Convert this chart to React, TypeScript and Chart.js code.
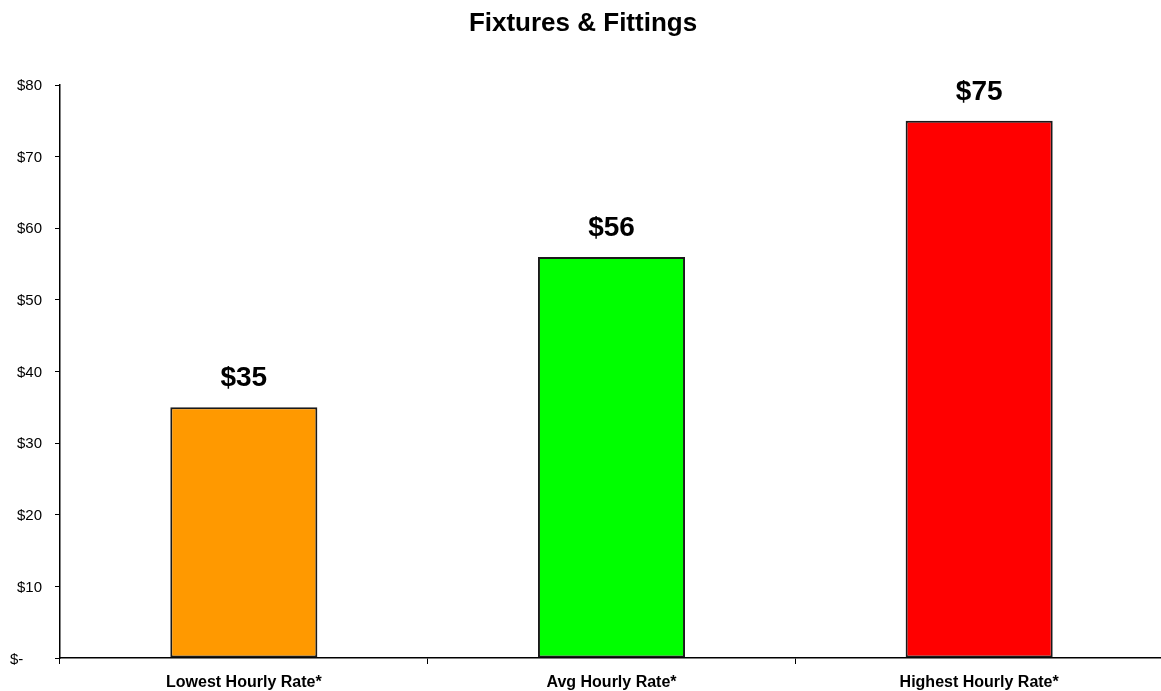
import React, { useEffect, useRef } from "react";
import { Chart, registerables } from "chart.js";

Chart.register(...registerables);

const title = "Fixtures & Fittings";
const categories = ["Lowest Hourly Rate*", "Avg Hourly Rate*", "Highest Hourly Rate*"];
const values = [35, 56, 75];
const barColors = ["#FF9900", "#00FF00", "#FF0000"];
const yMin = 0;
const yMax = 80;
const yStep = 10;

const FONT = "'Liberation Sans', Arial, Helvetica, sans-serif";

function drawText(ctx: any, text: string, x: number, y: number, align: string) {
  ctx.textAlign = align;
  ctx.fillText(text, x, y);
}

const textPlugin = {
  id: "customText",
  afterDraw(chart: any) {
    const ctx = chart.ctx;
    ctx.save();
    ctx.fillStyle = "#000";
    ctx.textBaseline = "middle";

    // title
    ctx.font = `bold 26px ${FONT}`;
    drawText(ctx, title, 583, 24, "center");

    // value labels
    const meta = chart.getDatasetMeta(0);
    ctx.font = `bold 28px ${FONT}`;
    meta.data.forEach((bar: any, i: number) => {
      drawText(ctx, "$" + values[i], bar.x, bar.y - 29, "center");
    });

    // x category labels
    const xs = chart.scales.x;
    ctx.font = `bold 16px ${FONT}`;
    categories.forEach((c, i) => {
      drawText(ctx, c, xs.getPixelForValue(i), 683, "center");
    });

    // y tick labels
    const ys = chart.scales.y;
    ctx.font = `15px ${FONT}`;
    for (let v = yMin; v <= yMax; v += yStep) {
      const y = ys.getPixelForValue(v) + 1;
      if (v === 0) {
        drawText(ctx, "$-", 10, y + 1, "left");
      } else {
        drawText(ctx, "$" + v, 42, y, "right");
      }
    }
    ctx.restore();
  },
};

export default function App() {
  const ref = useRef<HTMLCanvasElement>(null);
  useEffect(() => {
    document.body.style.margin = "0";
    const chart = new Chart(ref.current as HTMLCanvasElement, {
      type: "bar",
      data: {
        labels: categories,
        datasets: [
          {
            data: values,
            backgroundColor: barColors,
            borderColor: "#1a1a1a",
            borderWidth: 2,
            borderSkipped: false,
            categoryPercentage: 1,
            barPercentage: 0.4,
          },
        ],
      },
      options: {
        animation: false,
        responsive: false,
        maintainAspectRatio: false,
        layout: { padding: { top: 85, right: 0, bottom: 0, left: 0 } },
        plugins: {
          legend: { display: false },
          tooltip: { enabled: false },
          title: { display: false },
        },
        scales: {
          x: {
            offset: true,
            grid: {
              offset: true,
              drawOnChartArea: false,
              drawTicks: true,
              tickLength: 6,
              color: "#000",
              lineWidth: 1,
            },
            border: { display: true, color: "#000", width: 1.5 },
            ticks: {
              color: "rgba(0,0,0,0)",
              font: { family: FONT, size: 14, weight: "bold" },
              padding: 11,
              maxRotation: 0,
            },
            afterFit(scale: any) {
              scale.height = 33;
            },
          },
          y: {
            min: yMin,
            max: yMax,
            grid: {
              drawOnChartArea: false,
              drawTicks: true,
              tickLength: 5,
              color: "#000",
            },
            border: { display: true, color: "#000", width: 1.5 },
            ticks: {
              stepSize: yStep,
              color: "rgba(0,0,0,0)",
              font: { family: FONT, size: 13 },
              padding: 13,
              callback: (v: any) => (Number(v) === 0 ? "$-" : "$" + v),
            },
            afterFit(scale: any) {
              scale.width = 60;
            },
          },
        },
      },
      plugins: [textPlugin],
    });
    return () => chart.destroy();
  }, []);
  return (
    <div style={{ width: 1161, height: 691, background: "#fff" }}>
      <canvas ref={ref} width={1163} height={691} style={{ display: "block" }} />
    </div>
  );
}
